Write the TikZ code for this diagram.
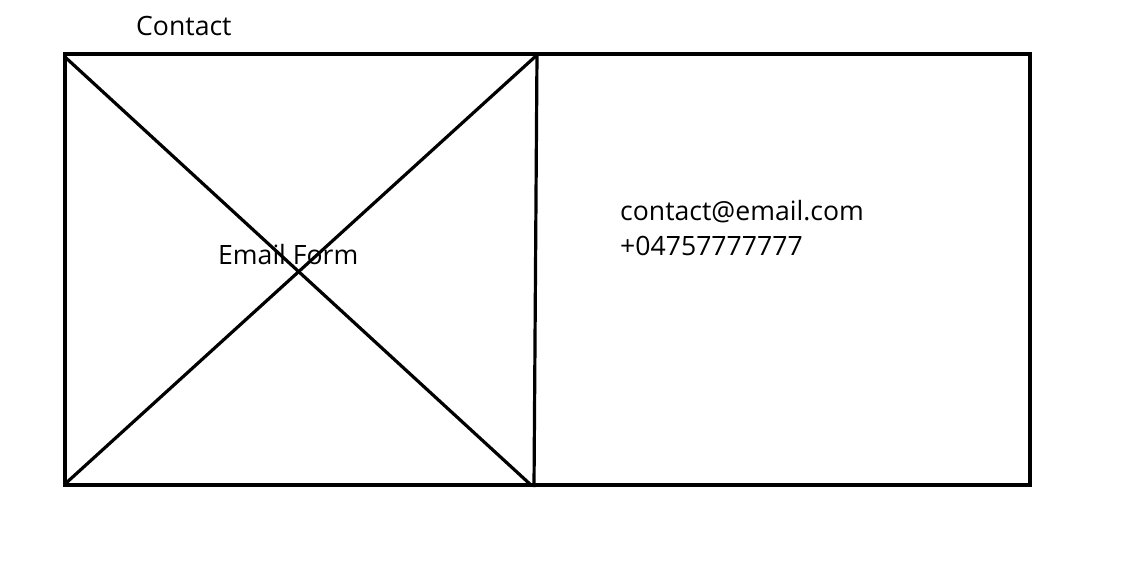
\documentclass[tikz,border=0pt]{standalone}
\usepackage{fontspec}
\setmainfont{Open Sans}
\begin{document}
\begin{tikzpicture}[x=1pt,y=-1pt,
  ln/.style={line width=3.2pt,black},
  lbl/.style={anchor=base west,inner sep=0pt,font=\fontsize{26.6}{35}\selectfont}]
\useasboundingbox (0,0) rectangle (1144,565);
\coordinate (tl) at (65,54);
\coordinate (tr) at (1030,54);
\coordinate (br) at (1030,485);
\coordinate (bl) at (65,485);
\coordinate (mt) at (537,54);
\coordinate (mb) at (534,487);
\coordinate (d1a) at (65,57);
\coordinate (d1b) at (531,485);
\coordinate (d2a) at (65,484);
\coordinate (d2b) at (537,55);
\draw[ln] (tl) -- (tr) -- (br) -- (bl) -- cycle;
\draw[ln] (mt) -- (mb);
\draw[ln] (d1a) -- (d1b);
\draw[ln] (d2a) -- (d2b);
\node[lbl] (contact) at (136,35) {Contact};
\node[lbl] (form) at (218,264) {Email Form};
\node[lbl] (mail) at (620,220) {contact@email.com};
\node[lbl] (phone) at (620,255) {+04757777777};
\end{tikzpicture}
\end{document}
